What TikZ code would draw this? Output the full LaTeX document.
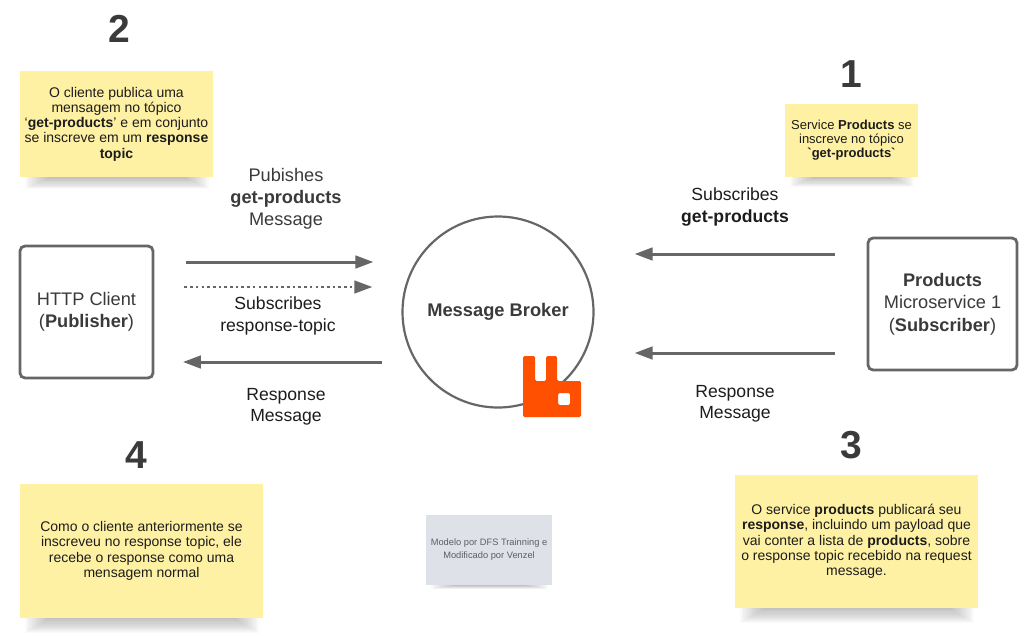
\documentclass[tikz,border=0pt]{standalone}
\usepackage{fontspec}
\setmainfont{Liberation Sans}
\usetikzlibrary{arrows.meta,positioning}

\begin{document}
\begin{tikzpicture}[
        x=1pt, y=1pt,
    ]

    \definecolor{linegray}{RGB}{102,102,102}
    \definecolor{inkgray}{RGB}{58,58,58}
    \definecolor{notetext}{RGB}{28,28,28}
    \definecolor{noteyellow}{RGB}{255,241,163}
    \definecolor{creditgray}{RGB}{223,225,233}
    \definecolor{creditink}{RGB}{90,94,106}
    \definecolor{rabbitorange}{RGB}{255,79,0}

    \tikzstyle{endpoint} = [rectangle, rounded corners=5pt, draw=linegray, line width=2.8pt,
                            inner sep=0pt, align=center, text=inkgray,
                            font=\fontsize{18.2}{22.5}\selectfont];
    \tikzstyle{broker} = [circle, draw=linegray, line width=2.2pt, minimum size=191pt, inner sep=0pt,
                          text=inkgray, font=\fontsize{18.3}{22}\selectfont\bfseries];
    \tikzstyle{note} = [rectangle, fill=noteyellow, inner sep=0pt, align=center, text=notetext,
                        font=\fontsize{14}{15.3}\selectfont];
    \tikzstyle{stepnum} = [text=inkgray, inner sep=0pt, font=\fontsize{39}{39}\selectfont\bfseries];
    \tikzstyle{msglabel} = [align=center, inner sep=0pt, font=\fontsize{17.6}{21.5}\selectfont];
    \tikzstyle{flow} = [-{Triangle[length=18pt,width=12.5pt]}, draw=linegray, line width=3pt];
    \tikzstyle{shade} = [fill=black, fill opacity=0.021, draw=none];

    \useasboundingbox (0,0) rectangle (1032,-635);

    % Nodes
    \node[endpoint, minimum width=133pt, minimum height=132pt] (client) at (86.5,-312)
        {HTTP Client\\(\textbf{Publisher})};
    \node[endpoint, minimum width=149pt, minimum height=132pt] (products) at (942.5,-304)
        {\textbf{Products}\\Microservice 1\\(\textbf{Subscriber})};
    \node[broker] (mbroker) at (498,-312) {\raisebox{5pt}{Message Broker}};

    % Notes
    \node[note, minimum width=193pt, minimum height=106pt] (noteclient) at (116.5,-124)
        {O cliente publica uma\\mensagem no tópico\\‘\textbf{get-products}’ e em conjunto\\
         se inscreve em um \textbf{response}\\\textbf{topic}};
    \node[note, minimum width=133pt, minimum height=73pt, font=\fontsize{13}{14}\selectfont] (noteservice) at (851.5,-140.5)
        {Service \textbf{Products} se\\inscreve no tópico\\\textbf{\textasciigrave get-products\textasciigrave}};
    \node[note, minimum width=243pt, minimum height=133pt] (notepublish) at (856.5,-541.5)
        {O service \textbf{products} publicará seu\\\textbf{response}, incluindo um payload que\\
         vai conter a lista de \textbf{products}, sobre\\o response topic recebido na request\\message.};
    \node[note, minimum width=243pt, minimum height=134pt] (notereceive) at (141.5,-551)
        {Como o cliente anteriormente se\\inscreveu no response topic, ele\\
         recebe o response como uma\\mensagem normal};
    \node[rectangle, fill=creditgray, text=creditink, inner sep=0pt, align=center,
          minimum width=126pt, minimum height=70pt, font=\fontsize{9.3}{13}\selectfont] (credit) at (489,-550)
        {Modelo por DFS Trainning e\\Modificado por Venzel};

    % Soft shadows under the notes
    \foreach \card/\depth in {noteclient/12, noteservice/10, notepublish/15, notereceive/15, credit/4} {
        \foreach \lay in {1,...,14} {
            \fill[shade] ([xshift={5+(14-\lay)*1.8}]\card.south west) rectangle
                         ([xshift={-4-(14-\lay)*1.8}, yshift={-\depth*\lay/14}]\card.south east);
        }
    }

    % Step numbers
    \node[stepnum, above of=noteclient, node distance=95pt, xshift=2.5pt] (steptwo) {2};
    \node[stepnum, above of=noteservice, node distance=66.5pt] (stepone) {1};
    \node[stepnum, above of=notepublish, node distance=96.5pt, xshift=-5.5pt] (stepthree) {3};
    \node[stepnum, above of=notereceive, node distance=96pt, xshift=-5.5pt] (stepfour) {4};

    % Message labels
    \node[msglabel, text=inkgray, font=\fontsize{18.2}{22}\selectfont] (pubtext) at (286,-199) {Pubishes\\\textbf{get-products}\\Message};
    \node[msglabel, text=notetext] (subtext) at (278,-316) {Subscribes\\response-topic};
    \node[msglabel, text=notetext] (resptext) at (286,-407) {Response\\Message};
    \node[msglabel, text=notetext] (subprodtext) at (735,-207) {Subscribes\\\textbf{get-products}};
    \node[msglabel, text=notetext] (respprodtext) at (735,-404) {Response\\Message};

    % Arrows
    \draw[flow, shorten <=32pt, shorten >=28pt] ([yshift=50pt]client.east) -- ([yshift=50pt]mbroker.west);
    \draw[flow, line width=2.6pt, dash pattern=on 2.6pt off 3.1pt, shorten <=30pt, shorten >=29pt] ([yshift=25pt]client.east) -- ([yshift=25pt]mbroker.west);
    \draw[flow, shorten <=19.5pt, shorten >=28.5pt] ([yshift=-50pt]mbroker.west) -- ([yshift=-50pt]client.east);
    \draw[flow, shorten <=32pt, shorten >=40pt] ([yshift=50pt]products.west) -- ([yshift=58pt]mbroker.east);
    \draw[flow, shorten <=32pt, shorten >=40pt] ([yshift=-49pt]products.west) -- ([yshift=-41pt]mbroker.east);

    % Rabbit logo
    \fill[rabbitorange, rounded corners=1.5pt, even odd rule]
        (523,-356) -- (535,-356) -- (535,-381) -- (546,-381) -- (546,-356) -- (557,-356) -- (557,-381)
        -- (581,-381) -- (581,-417) -- (523,-417) -- cycle
        (558,-393) -- (570,-393) -- (570,-405) -- (558,-405) -- cycle;

\end{tikzpicture}
\end{document}
